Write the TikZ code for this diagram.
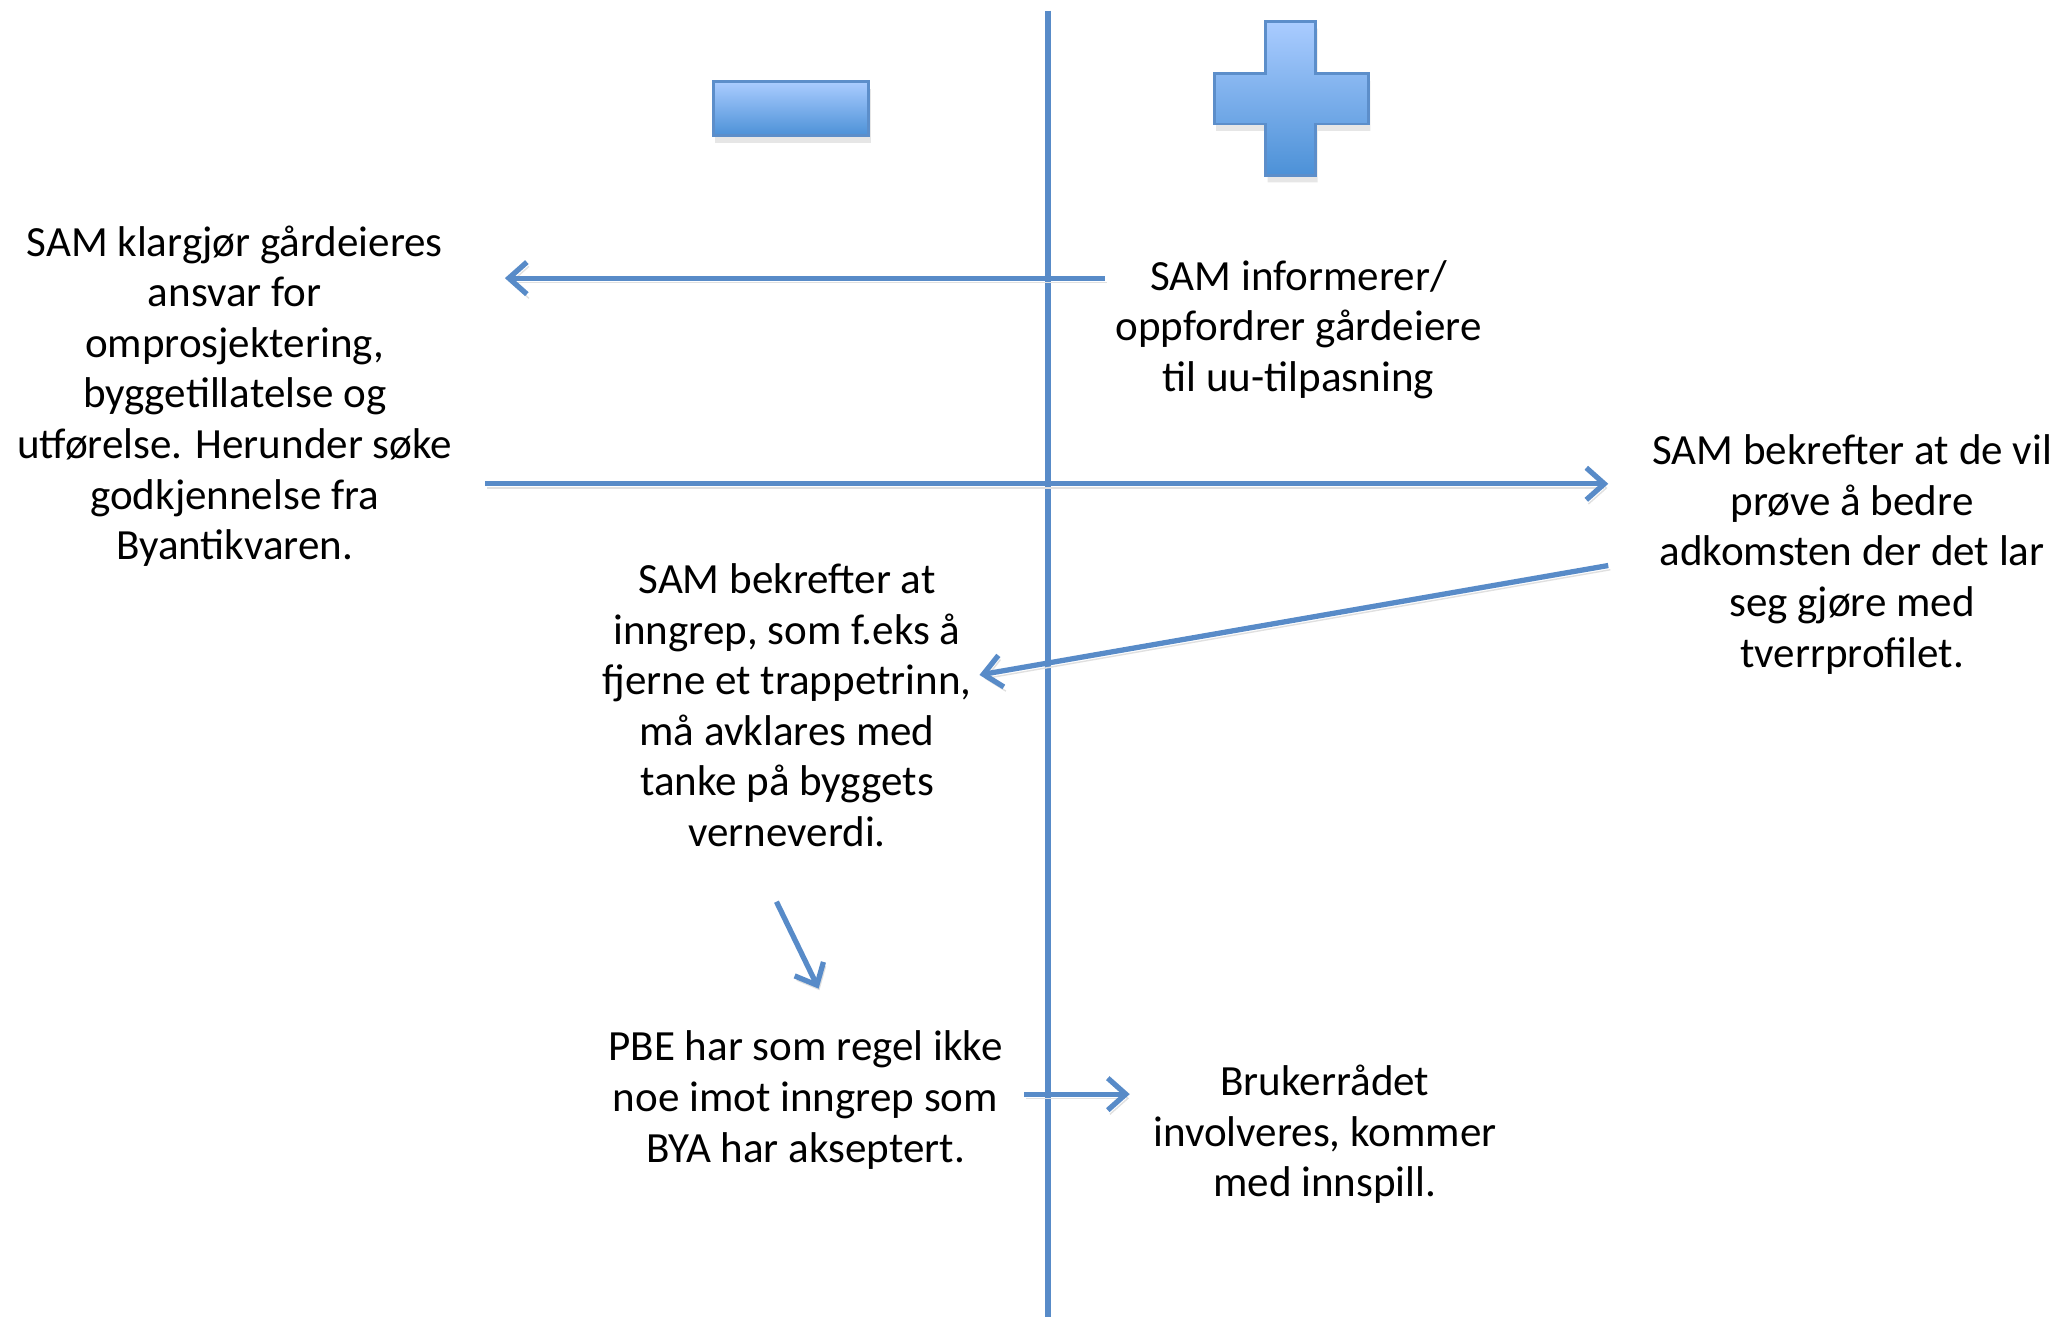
\documentclass[tikz,border=0pt]{standalone}
\usepackage{fontspec}
\setmainfont{Carlito}
\usepackage{tikz}
\usetikzlibrary{arrows.meta,shadows}
\definecolor{linie}{RGB}{88,139,200}
\definecolor{hell}{RGB}{170,204,255}
\definecolor{dunkel}{RGB}{76,145,215}
\definecolor{rand}{RGB}{92,142,202}
\tikzstyle{txt} = [align=center, inner sep=0pt, font=\fontsize{12.25}{14.4}\selectfont]
\tikzstyle{pfeil} = [->, draw=linie, line width=1.5pt, preaction={draw=black!12, transform canvas={xshift=0.6pt,yshift=-1.2pt}}]
\tikzstyle{zeichen} = [draw=rand, line width=0.8pt, top color=hell, bottom color=dunkel, drop shadow={opacity=0.2, shadow xshift=0.2mm, shadow yshift=-0.7mm}]

\begin{document}
\begin{tikzpicture}[x=0.01318cm,y=-0.01318cm,>={Straight Barb[length=1.8mm,width=3.2mm]}]
  \useasboundingbox (0,0) rectangle (1568,999);

  % minus and plus
  \path[zeichen] (541,62) rectangle (659,103);
  \path[zeichen] (960,16.5) -- (998,16.5) -- (998,56) -- (1038,56) -- (1038,94) -- (998,94)
    -- (998,133) -- (960,133) -- (960,94) -- (921,94) -- (921,56) -- (960,56) -- cycle;

  % axis
  \coordinate (Achse_oben) at (795,8);
  \coordinate (Achse_unten) at (795,999);
  \draw[linie, line width=1.5pt] (Achse_oben) -- (Achse_unten);

  \node[txt] (SAM_klar) at (178,300.5) {SAM klargjør gårdeieres\\ansvar for\\omprosjektering,\\byggetillatelse og\\utførelse. Herunder søke\\godkjennelse fra\\Byantikvaren.};
  \node[txt] (SAM_info) at (985,250) {SAM informerer/\\oppfordrer gårdeiere\\til uu-tilpasning};
  \node[txt] (SAM_vil) at (1405,420.5) {SAM bekrefter at de vil\\prøve å bedre\\adkomsten der det lar\\seg gjøre med\\tverrprofilet.};
  \node[txt] (SAM_inngrep) at (597,535) {SAM bekrefter at\\inngrep, som f.eks å\\fjerne et trappetrinn,\\må avklares med\\tanke på byggets\\verneverdi.};
  \node[txt] (PBE) at (611,834.5) {PBE har som regel ikke\\noe imot inngrep som\\BYA har akseptert.};
  \node[txt] (Bruker) at (1005,860.5) {Brukerrådet\\involveres, kommer\\med innspill.};

  \coordinate (P_eins_a) at (838,211);
  \coordinate (P_eins_b) at (383,211);
  \coordinate (P_zwei_a) at (368,367);
  \coordinate (P_zwei_b) at (1220,367);
  \coordinate (P_drei_a) at (1220,429);
  \coordinate (P_drei_b) at (743,512);
  \coordinate (P_vier_a) at (589,684);
  \coordinate (P_vier_b) at (621,750);
  \coordinate (P_fuenf_a) at (777,830);
  \coordinate (P_fuenf_b) at (857,830);

  \path (P_eins_a) edge[pfeil] (P_eins_b);
  \path (P_zwei_a) edge[pfeil] (P_zwei_b);
  \path (P_drei_a) edge[pfeil] (P_drei_b);
  \path (P_vier_a) edge[pfeil] (P_vier_b);
  \path (P_fuenf_a) edge[pfeil] (P_fuenf_b);
\end{tikzpicture}
\end{document}
